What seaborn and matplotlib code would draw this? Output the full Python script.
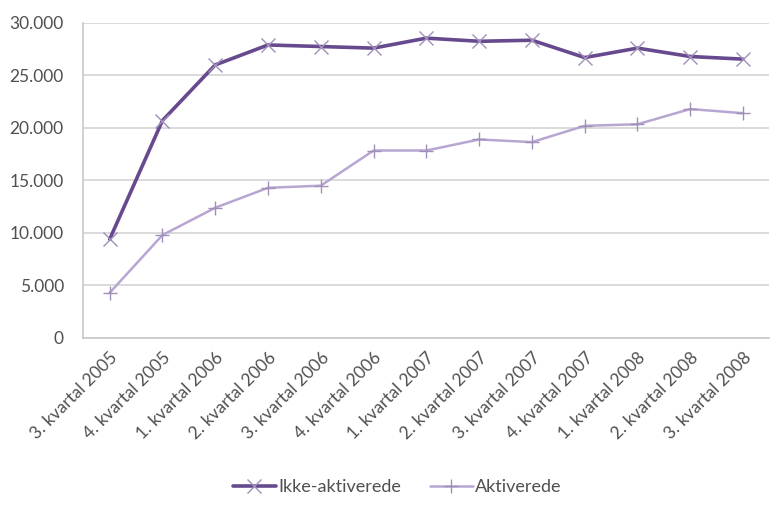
import matplotlib
matplotlib.use("Agg")
from matplotlib import pyplot as plt
from matplotlib.ticker import FuncFormatter
import pandas
import seaborn as sns

quarters = [
    "3. kvartal 2005", "4. kvartal 2005", "1. kvartal 2006", "2. kvartal 2006",
    "3. kvartal 2006", "4. kvartal 2006", "1. kvartal 2007", "2. kvartal 2007",
    "3. kvartal 2007", "4. kvartal 2007", "1. kvartal 2008", "2. kvartal 2008",
    "3. kvartal 2008",
]
ikke_aktiverede = [9400, 20700, 26000, 27900, 27750, 27600, 28550, 28250,
                   28350, 26700, 27600, 26800, 26550]
aktiverede = [4300, 9800, 12400, 14300, 14500, 17850, 17850, 18900,
              18650, 20200, 20350, 21800, 21400]

df = pandas.DataFrame({
    "kvartal": quarters * 2,
    "antal": ikke_aktiverede + aktiverede,
    "gruppe": ["Ikke-aktiverede"] * len(quarters) + ["Aktiverede"] * len(quarters),
})

sns.set_style("white")
plt.rcParams["font.family"] = ["Lato", "DejaVu Sans"]

fig = plt.figure(figsize=(7.71, 5.09), dpi=100)
ax = fig.add_axes([0.108, 0.336, 0.890, 0.619])

styles = {
    "Ikke-aktiverede": dict(color="#674a8e", marker="x", lw=2.6),
    "Aktiverede": dict(color="#b8a6d2", marker="+", lw=1.8),
}
for name, st in styles.items():
    sns.lineplot(
        data=df[df["gruppe"] == name],
        x="kvartal",
        y="antal",
        sort=False,
        color=st["color"],
        linewidth=st["lw"],
        marker=st["marker"],
        markersize=10,
        markeredgecolor="#a08fb8",
        markeredgewidth=1.0,
        label=name,
        legend=False,
        ax=ax,
    )

ax.set_ylim(0, 30000)
ax.set_xlim(-0.5, len(quarters) - 0.5)
ax.set_yticks(range(0, 30001, 5000))
ax.yaxis.set_major_formatter(FuncFormatter(lambda v, _: f"{int(v):,}".replace(",", ".")))
ax.grid(axis="y", color="#d4d4d4", linewidth=1.2)
ax.set_axisbelow(True)
for side in ["top", "right"]:
    ax.spines[side].set_visible(False)
for side in ["left", "bottom"]:
    ax.spines[side].set_color("#c8c8c8")
    ax.spines[side].set_linewidth(1.2)
ax.tick_params(axis="both", length=0, colors="#505050", labelsize=12.5)
ax.tick_params(axis="y", pad=14)
ax.tick_params(axis="x", pad=8)
plt.setp(ax.get_xticklabels(), rotation=45, ha="right", rotation_mode="anchor")
ax.set_xlabel("")
ax.set_ylabel("")

handles, labels = ax.get_legend_handles_labels()
fig.legend(handles, labels, loc="lower center", bbox_to_anchor=(0.515, -0.005),
           ncol=2, frameon=False, fontsize=13, labelcolor="#505050",
           handlelength=2.4, handletextpad=0.1, columnspacing=1.6)

fig.savefig("out.png", dpi=100)
